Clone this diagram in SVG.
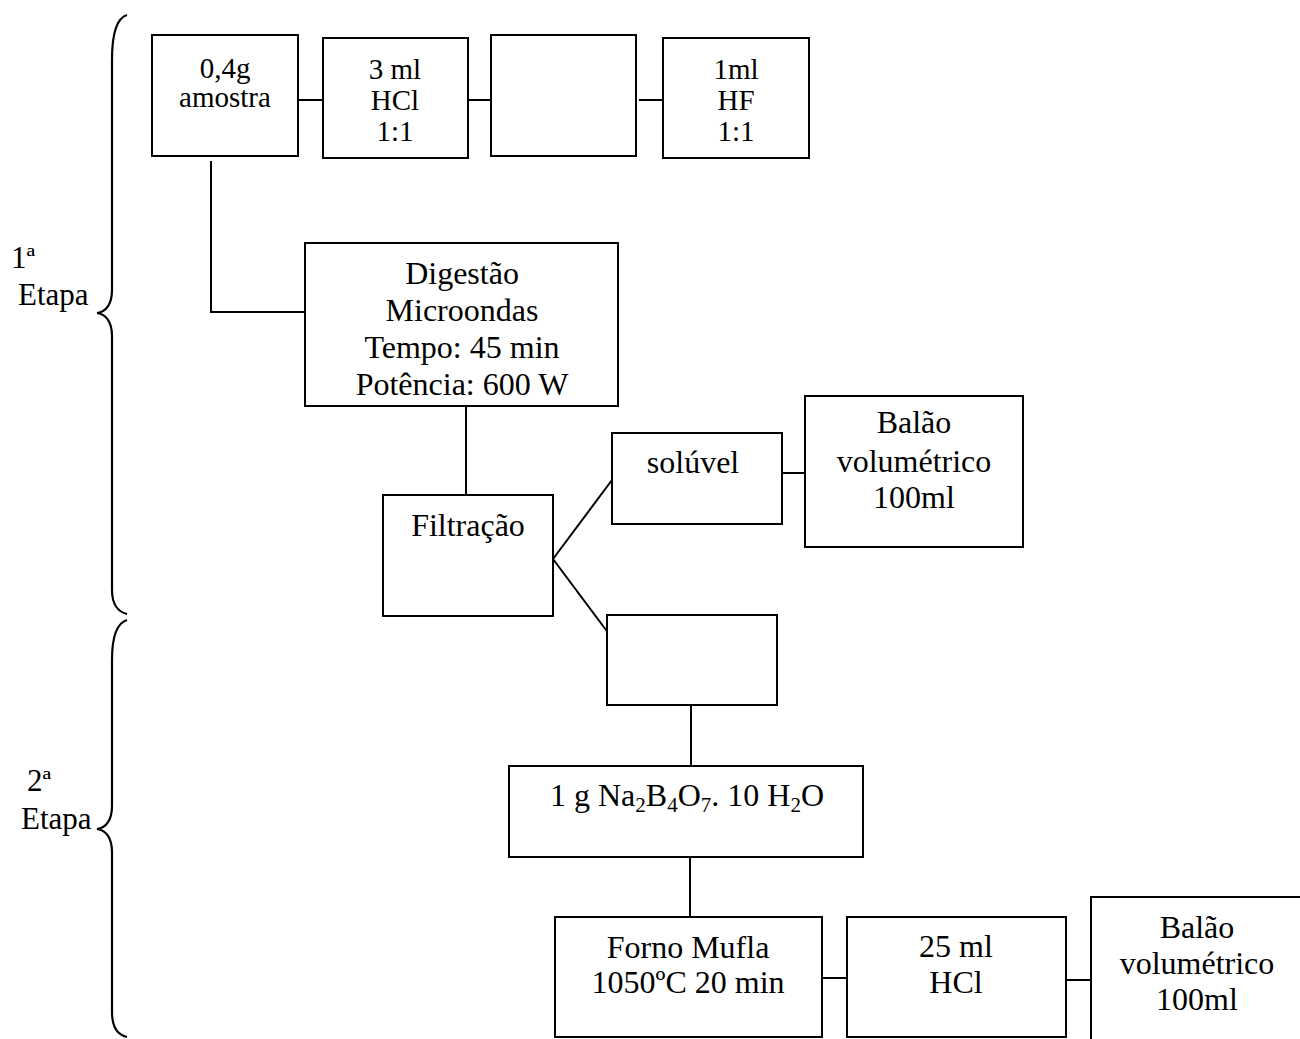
<svg xmlns="http://www.w3.org/2000/svg" width="1300" height="1039" viewBox="0 0 1300 1039">
  <style>
    .box { fill: #ffffff; stroke: #000000; stroke-width: 2; }
    .ln { fill: none; stroke: #000000; stroke-width: 2; }
    .brace { fill: none; stroke: #000000; stroke-width: 2.2; }
    text { font-family: "Liberation Serif", "Times New Roman", serif; fill: #000000; }
    .t32 { font-size: 32px; text-anchor: middle; }
    .t29 { font-size: 29px; text-anchor: middle; }
    .lbl { font-size: 31px; }
    .sub { font-size: 21px; }
  </style>
  <rect width="1300" height="1039" fill="#ffffff"/>

  <!-- stage braces and labels -->
  <g id="stage1">
    <path class="brace" d="M127,15 C117,18 112,34 112,60 L112,290 C112,304 106,312 97,313 C106,314 112,322 112,336 L112,590 C112,604 118,612 127,614"/>
    <text class="lbl" x="11" y="268">1ª</text>
    <text class="lbl" x="18" y="305">Etapa</text>
  </g>
  <g id="stage2">
    <path class="brace" d="M127,620 C117,623 112,636 112,660 L112,806 C112,820 106,828 97,829 C106,830 112,838 112,852 L112,1012 C112,1027 118,1035 127,1037"/>
    <text class="lbl" x="27" y="791">2ª</text>
    <text class="lbl" x="21" y="829">Etapa</text>
  </g>

  <!-- connectors -->
  <g id="connectors">
    <line class="ln" x1="298" y1="100" x2="323" y2="100"/>
    <line class="ln" x1="468" y1="100" x2="491" y2="100"/>
    <line class="ln" x1="639" y1="100" x2="663" y2="100"/>
    <polyline class="ln" points="211,161 211,312 305,312"/>
    <line class="ln" x1="466" y1="406" x2="466" y2="495"/>
    <line class="ln" x1="553" y1="559" x2="612" y2="480"/>
    <line class="ln" x1="553" y1="559" x2="612" y2="638"/>
    <line class="ln" x1="782" y1="473" x2="805" y2="473"/>
    <line class="ln" x1="691" y1="705" x2="691" y2="766"/>
    <line class="ln" x1="690" y1="857" x2="690" y2="917"/>
    <line class="ln" x1="822" y1="978" x2="847" y2="978"/>
    <line class="ln" x1="1066" y1="980" x2="1091" y2="980"/>
  </g>

  <!-- first stage nodes -->
  <g id="amostra">
    <rect class="box" x="152" y="35" width="146" height="121"/>
    <text class="t29" x="225" y="78">0,4g</text>
    <text class="t29" x="225" y="107">amostra</text>
  </g>
  <g id="hcl-1-1">
    <rect class="box" x="323" y="38" width="145" height="120"/>
    <text class="t29" x="395" y="79">3 ml</text>
    <text class="t29" x="395" y="110">HCl</text>
    <text class="t29" x="395" y="141">1:1</text>
  </g>
  <g id="empty-1">
    <rect class="box" x="491" y="35" width="145" height="121"/>
  </g>
  <g id="hf-1-1">
    <rect class="box" x="663" y="38" width="146" height="120"/>
    <text class="t29" x="736" y="79">1ml</text>
    <text class="t29" x="736" y="110">HF</text>
    <text class="t29" x="736" y="141">1:1</text>
  </g>
  <g id="digestao">
    <rect class="box" x="305" y="243" width="313" height="163"/>
    <text class="t32" x="462" y="284">Digestão</text>
    <text class="t32" x="462" y="321">Microondas</text>
    <text class="t32" x="462" y="358">Tempo: 45 min</text>
    <text class="t32" x="462" y="395">Potência: 600 W</text>
  </g>
  <g id="filtracao">
    <rect class="box" x="383" y="495" width="170" height="121"/>
    <text class="t32" x="468" y="536">Filtração</text>
  </g>
  <g id="soluvel">
    <rect class="box" x="612" y="433" width="170" height="91"/>
    <text class="t32" x="693" y="473">solúvel</text>
  </g>
  <g id="balao-1">
    <rect class="box" x="805" y="396" width="218" height="151"/>
    <text class="t32" x="914" y="433">Balão</text>
    <text class="t32" x="914" y="472">volumétrico</text>
    <text class="t32" x="914" y="508">100ml</text>
  </g>

  <!-- second stage nodes -->
  <g id="insoluvel">
    <rect class="box" x="607" y="615" width="170" height="90"/>
  </g>
  <g id="tetraborato">
    <rect class="box" x="509" y="766" width="354" height="91"/>
    <text class="t32" x="687" y="806">1 g Na<tspan class="sub" dy="6">2</tspan><tspan dy="-6">B</tspan><tspan class="sub" dy="6">4</tspan><tspan dy="-6">O</tspan><tspan class="sub" dy="6">7</tspan><tspan dy="-6">. 10 H</tspan><tspan class="sub" dy="6">2</tspan><tspan dy="-6">O</tspan></text>
  </g>
  <g id="forno-mufla">
    <rect class="box" x="555" y="917" width="267" height="120"/>
    <text class="t32" x="688" y="958">Forno Mufla</text>
    <text class="t32" x="688" y="993">1050ºC 20 min</text>
  </g>
  <g id="hcl-25">
    <rect class="box" x="847" y="917" width="219" height="120"/>
    <text class="t32" x="956" y="957">25 ml</text>
    <text class="t32" x="956" y="993">HCl</text>
  </g>
  <g id="balao-2">
    <path class="ln" d="M1091,1040 L1091,897 L1302,897"/>
    <text class="t32" x="1197" y="938">Balão</text>
    <text class="t32" x="1197" y="974">volumétrico</text>
    <text class="t32" x="1197" y="1010">100ml</text>
  </g>
</svg>
